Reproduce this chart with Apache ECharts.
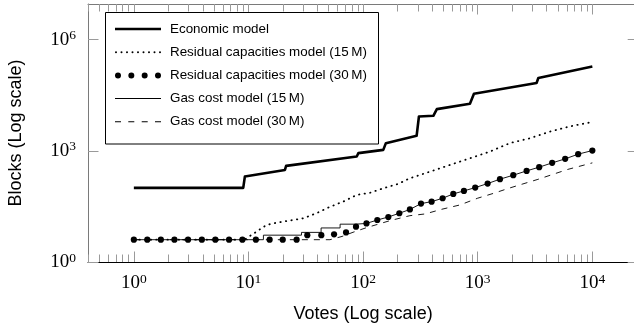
<!DOCTYPE html>
<html><head><meta charset="utf-8">
<script src="https://cdn.jsdelivr.net/npm/echarts@6/dist/echarts.min.js"></script>
<style>html,body{margin:0;padding:0;background:#fff}#c{width:634px;height:330px}</style>
</head><body><div id="c"></div>
<script>
// ---------- data ----------
const seriesNames = ['Economic model', 'Residual capacities model (15\u2009M)', 'Residual capacities model (30\u2009M)', 'Gas cost model (15\u2009M)', 'Gas cost model (30\u2009M)'];
const xTitle = 'Votes (Log scale)';
const yTitle = 'Blocks (Log scale)';
const xTickExps = [0, 1, 2, 3, 4];
const yTickExps = [0, 3, 6];

const votesEcon  = [1, 9.0, 9.3, 20.8, 21.3, 88, 91, 150, 158, 293, 307, 410, 440, 855, 927, 3260, 3380, 10000];
const blocksEcon = [100, 100, 202, 306, 393, 702, 867, 1064, 1615, 2543, 8450, 8830, 13400, 18600, 34700, 67600, 92300, 190000];

const votesRes15  = [1, 9.2, 11.4, 14.4, 17.6, 23.1, 30.1, 39.4, 51.4, 67.1, 87.9, 115, 150, 203, 256, 383, 573, 855, 1276, 1910, 2851, 4266, 6368, 10000];
const blocksRes15 = [4, 4, 6.2, 10, 11.5, 13.2, 15.1, 20.9, 30.9, 42.7, 64.6, 74, 97.7, 129, 182, 275, 417, 631, 955, 1622, 2188, 3311, 4571, 6026];

const votesRes30  = [1, 1.31, 1.72, 2.26, 2.97, 3.92, 5.14, 6.77, 8.85, 11.6, 15.3, 19.9, 26.3, 32.6, 43.2, 55.8, 71, 86.7, 107, 133, 166, 207, 256, 320, 396, 494, 612, 758, 951, 1220, 1563, 2042, 2670, 3437, 4460, 5794, 7518, 10000];
const blocksRes30 = [4, 4, 4, 4, 4, 4, 4, 4, 4, 4, 4, 4, 4, 5.3, 5.3, 5.6, 6.3, 9, 11, 13.6, 16.4, 20.7, 26.2, 37.7, 42.6, 52.6, 68.9, 83, 102, 131, 172, 220, 288, 363, 474, 608, 815, 1019];

const votesGas15  = [1, 13.5, 13.5, 29, 29, 43, 43, 63, 63, 86.7, 107, 133, 166, 207, 256, 320, 396, 494, 612, 758, 951, 1220, 1563, 2042, 2670, 3437, 4460, 5794, 7518, 10000];
const blocksGas15 = [4, 4, 5.3, 5.3, 6.3, 6.3, 8.3, 8.3, 10.5, 10.5, 11, 13.6, 16.4, 20.7, 26.2, 37.7, 42.6, 52.6, 68.9, 83, 102, 131, 172, 220, 288, 363, 474, 608, 815, 1019];

const votesGas30  = [1, 51.4, 65.5, 81.7, 107, 172, 256, 347, 488, 700, 1000, 1384, 1871, 2478, 3350, 4520, 6110, 10000];
const blocksGas30 = [4, 4, 4.9, 6.35, 8.45, 13.1, 17.8, 19.8, 26.6, 34.7, 52.8, 71.9, 98, 128, 170, 232, 316, 474];

// ---------- chart ----------
const zip = (a, b) => a.map((v, i) => [v, b[i]]);
const X_MIN_EXP = -0.4, X_MAX_EXP = 4.4, Y_MIN_EXP = 0, Y_MAX_EXP = 6.964;
const xMinorExps = [];
for (let e = -1; e <= 3; e++) for (let k = 2; k <= 9; k++) {
  const v = e + Math.log10(k);
  if (v > X_MIN_EXP && v < 4) xMinorExps.push(v);
}
const SANS = 'Liberation Sans', SERIF = 'Liberation Serif';
const TICK = '#9a9a9a', FRAME = '#7a7a7a';
const rich = {
  b: {fontFamily: SERIF, fontSize: 19, color: '#000', lineHeight: 22},
  s: {fontFamily: SERIF, fontSize: 13.5, color: '#000', lineHeight: 12, verticalAlign: 'top'}
};
const powLabel = v => '{b|10}{s|' + Math.round(v) + '}';

function expAxis(dim, pos, opts) {
  const isX = dim === 'x';
  return Object.assign({
    type: 'value', position: pos, gridIndex: 0,
    min: isX ? X_MIN_EXP : Y_MIN_EXP, max: isX ? X_MAX_EXP : Y_MAX_EXP,
    splitLine: {show: false},
    axisLine: {show: false, onZero: false},
    axisTick: {show: false},
    axisLabel: {show: false},
    silent: true
  }, opts);
}
const majorTick = (vals) => ({show: true, inside: true, length: 10.5, customValues: vals, lineStyle: {color: TICK, width: 1}});
const minorTick = {show: true, inside: true, length: 7.5, customValues: xMinorExps, lineStyle: {color: TICK, width: 1}};

const xAxes = [
  {type: 'log', logBase: 10, min: Math.pow(10, X_MIN_EXP), max: Math.pow(10, X_MAX_EXP), show: false, position: 'bottom', axisLine: {onZero: false}},
  expAxis('x', 'bottom', {
    axisLine: {show: true, onZero: false, lineStyle: {color: '#000', width: 1}},
    axisTick: majorTick(xTickExps),
    axisLabel: {show: true, customValues: xTickExps, formatter: powLabel, rich: rich, margin: 10},
    name: xTitle, nameLocation: 'middle', nameGap: 43,
    nameTextStyle: {fontFamily: SANS, fontSize: 18, color: '#000'}
  }),
  expAxis('x', 'bottom', {axisTick: minorTick}),
  expAxis('x', 'top', {axisLine: {show: true, onZero: false, lineStyle: {color: FRAME, width: 1}}, axisTick: majorTick(xTickExps)}),
  expAxis('x', 'top', {axisTick: minorTick})
];
const yAxes = [
  {type: 'log', logBase: 10, min: Math.pow(10, Y_MIN_EXP), max: Math.pow(10, Y_MAX_EXP), show: false, position: 'left', axisLine: {onZero: false}},
  expAxis('y', 'left', {
    axisLine: {show: true, onZero: false, lineStyle: {color: FRAME, width: 1}},
    axisTick: majorTick(yTickExps),
    axisLabel: {show: true, customValues: yTickExps, formatter: powLabel, rich: rich, margin: 12},
    name: yTitle, nameLocation: 'middle', nameGap: 63,
    nameTextStyle: {fontFamily: SANS, fontSize: 18, color: '#000'}
  }),
  expAxis('y', 'right', {axisLine: {show: true, onZero: false, lineStyle: {color: FRAME, width: 1}}, axisTick: majorTick(yTickExps)})
];

function circles(cxs, cy, r) {
  return cxs.map(cx => 'M' + (cx - r) + ',' + cy + 'a' + r + ',' + r + ' 0 1,0 ' + (2 * r) + ',0a' + r + ',' + r + ' 0 1,0 ' + (-2 * r) + ',0Z').join('');
}
const icons = [
  'path://M0,0H46V2.6H0Z',
  'path://' + circles([1, 6.5, 12, 17.5, 23, 28.5, 34, 39.5, 45], 1, 1),
  'path://' + circles([3, 16.33, 29.67, 43], 3, 3),
  'path://M0,0H46V1H0Z',
  'path://M0,0H6V1H0ZM13.3,0H19.3V1H13.3ZM26.7,0H32.7V1H26.7ZM40,0H46V1H40Z'
];

const base = {xAxisIndex: 0, yAxisIndex: 0, animation: false, silent: true, color: '#000'};
const option = {
  animation: false,
  backgroundColor: '#fff',
  grid: {left: 88, right: -4.2, top: 4, bottom: 68, containLabel: false, outerBoundsMode: 'none'},
  xAxis: xAxes,
  yAxis: yAxes,
  legend: {
    orient: 'vertical', left: 115, top: 22.5, padding: 0,
    itemWidth: 46, itemHeight: 6, itemGap: 10.2, symbolKeepAspect: true,
    selectedMode: false, z: 20,
    textStyle: {fontFamily: SANS, fontSize: 13.4, color: '#000', padding: [0, 0, 0, 4]},
    data: seriesNames.map((n, i) => ({name: n, icon: icons[i], itemStyle: {color: '#000', borderWidth: 0, opacity: 1}}))
  },
  graphic: [{
    type: 'rect', z: 15, silent: true,
    shape: {x: 105.5, y: 12.5, width: 273, height: 131.5},
    style: {fill: '#fff', stroke: '#000', lineWidth: 1}
  }],
  series: [
    Object.assign({type: 'line', name: seriesNames[0], data: zip(votesEcon, blocksEcon), symbol: 'none', z: 5,
      lineStyle: {color: '#000', width: 2.6, join: 'round'}}, base),
    Object.assign({type: 'line', name: seriesNames[1], data: zip(votesRes15, blocksRes15), symbol: 'none', z: 4,
      lineStyle: {color: '#000', width: 1.8, type: [0.4, 5.2], cap: 'round'}}, base),
    Object.assign({type: 'scatter', name: seriesNames[2], data: zip(votesRes30, blocksRes30), symbol: 'circle', symbolSize: 6.2, z: 6,
      itemStyle: {color: '#000', opacity: 1}}, base),
    Object.assign({type: 'line', name: seriesNames[3], data: zip(votesGas15, blocksGas15), symbol: 'none', z: 3,
      lineStyle: {color: '#000', width: 0.9}}, base),
    Object.assign({type: 'line', name: seriesNames[4], data: zip(votesGas30, blocksGas30), symbol: 'none', z: 3,
      lineStyle: {color: '#000', width: 0.9, type: [6, 6]}}, base)
  ]
};
const chart = echarts.init(document.getElementById('c'), null, {renderer: 'canvas'});
chart.setOption(option);
</script>
</body></html>
